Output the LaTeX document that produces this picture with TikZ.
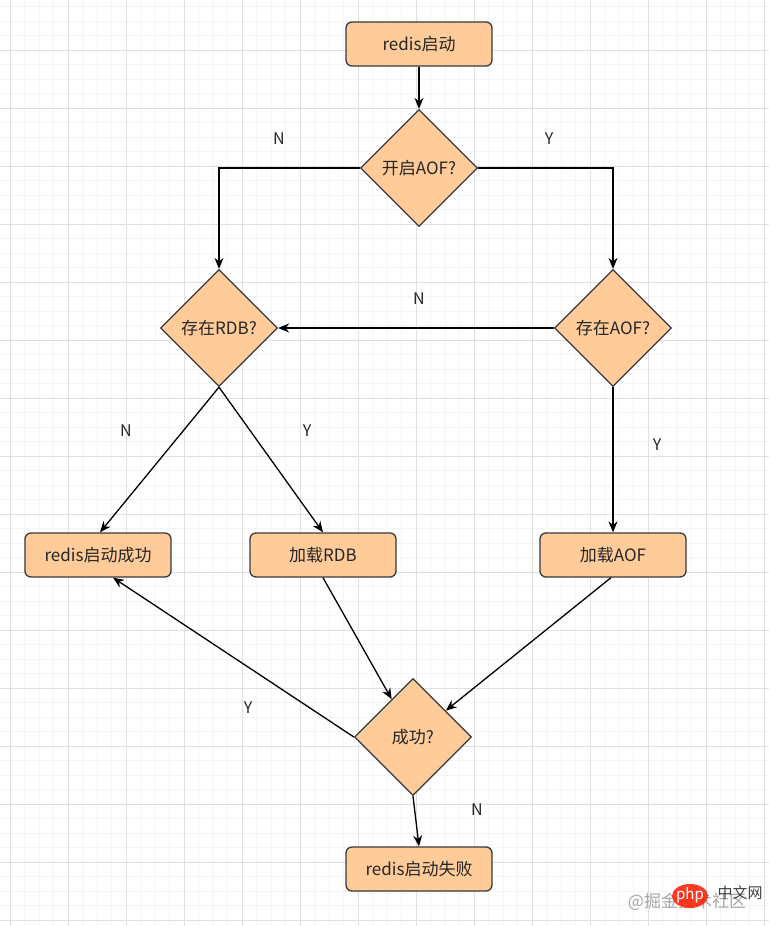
\documentclass[tikz,border=0pt]{standalone}
\usepackage{fontspec}
\setmainfont{Noto Sans CJK SC}
\usetikzlibrary{shapes.geometric,arrows.meta}
\definecolor{boxfill}{HTML}{FFCC99}
\definecolor{boxline}{HTML}{36393D}
\definecolor{gridmajor}{HTML}{E0E0E0}
\definecolor{gridminor}{HTML}{F4F4F4}
\tikzset{
  procbox/.style={draw=boxline, fill=boxfill, line width=1.3pt, rounded corners=6pt,
    minimum width=146pt, minimum height=44pt, inner sep=0pt, font=\fontsize{17}{20}\selectfont, text=black!85},
  decision/.style={draw=boxline, fill=boxfill, line width=1.3pt, diamond, aspect=1,
    minimum width=117pt, minimum height=117pt, inner sep=0pt, font=\fontsize{17}{20}\selectfont, text=black!85},
  flow/.style={draw=black, line width=1.3pt, -{Stealth[length=11pt,width=9pt]}},
  lbl/.style={font=\fontsize{16}{18}\selectfont, text=black!85}
}
\begin{document}
\begin{tikzpicture}[x=1pt,y=-1pt]
\useasboundingbox (0,0) rectangle (769,926);
\fill[white] (0,0) rectangle (769,926);
% grid
\foreach \i in {0,...,54} {
  \draw[gridminor, line width=0.8pt] ({-4.5+14.5*\i},0) -- ({-4.5+14.5*\i},926);
}
\foreach \j in {0,...,64} {
  \draw[gridminor, line width=0.8pt] (0,{-8+14.5*\j}) -- (769,{-8+14.5*\j});
}
\foreach \i in {0,...,13} {
  \draw[gridmajor, line width=0.9pt] ({10+58*\i},0) -- ({10+58*\i},926);
}
\foreach \j in {0,...,16} {
  \draw[gridmajor, line width=0.9pt] (0,{-8+58*\j}) -- (769,{-8+58*\j});
}
% nodes
\node[procbox] (start) at (419,44) {redis启动};
\node[decision] (aof) at (419,168) {开启AOF?};
\node[decision] (hasrdb) at (219,328) {存在RDB?};
\node[decision] (hasaof) at (613,328) {存在AOF?};
\node[procbox] (ok) at (98,555) {redis启动成功};
\node[procbox] (loadrdb) at (323,555) {加载RDB};
\node[procbox] (loadaof) at (613,555) {加载AOF};
\node[decision] (succ) at (413,737) {成功?};
\node[procbox] (fail) at (419,869) {redis启动失败};
% edges
\draw[flow] (start) -- (aof);
\draw[flow] (aof.west) -| (hasrdb.north);
\draw[flow] (aof.east) -| (hasaof.north);
\draw[flow] (hasaof.west) -- (hasrdb.east);
\draw[flow] (hasrdb.south) -- ([xshift=2pt]ok.north);
\draw[flow] (hasrdb.south) -- (loadrdb.north);
\draw[flow] (hasaof.south) -- (loadaof.north);
\draw[flow] (loadrdb.south) -- (succ);
\draw[flow] ([xshift=-2pt]loadaof.south) -- (succ);
\draw[flow] (succ.west) -- ([xshift=15pt]ok.south);
\draw[flow] (succ.south) -- (fail.north);
% labels
\node[lbl] (lN1) at (279,139) {N};
\node[lbl] (lY1) at (549,139) {Y};
\node[lbl] (lN2) at (419,299) {N};
\node[lbl] (lN3) at (126,431) {N};
\node[lbl] (lY2) at (307,431) {Y};
\node[lbl] (lY3) at (657,445) {Y};
\node[lbl] (lY4) at (248,708) {Y};
\node[lbl] (lN4) at (477,810) {N};
% watermark
\node[font=\fontsize{17}{20}\selectfont, text=black!35] (wm) at (687,902) {@掘金技术社区};
\fill[red!80!orange, opacity=0.85] (690,896) ellipse [x radius=18, y radius=12];
\node[font=\fontsize{15}{18}\selectfont\itshape, text=white] (php) at (690,895) {php};
\node[font=\fontsize{15}{18}\selectfont, text=black!75] (cnw) at (740,893) {中文网};
\end{tikzpicture}
\end{document}
